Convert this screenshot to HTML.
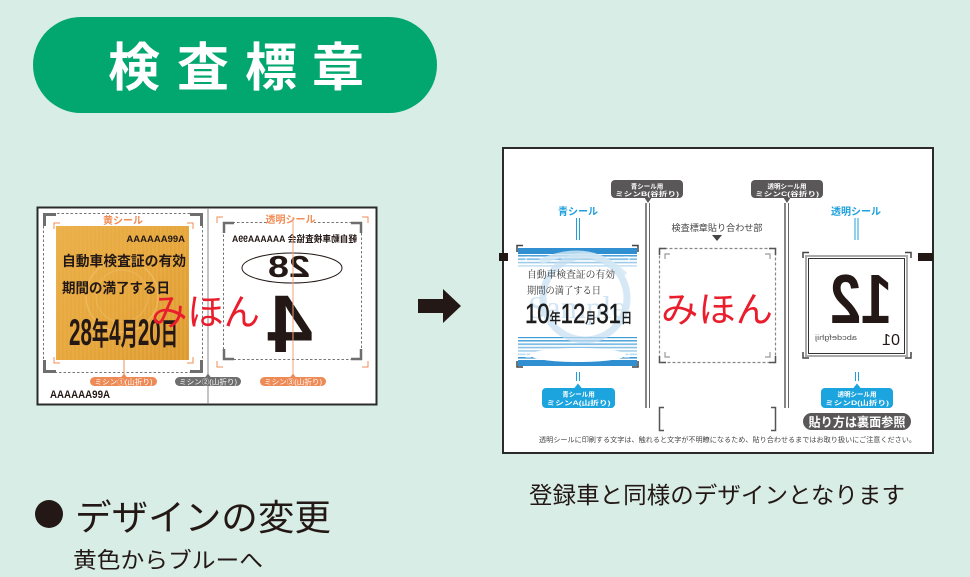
<!DOCTYPE html>
<html><head><meta charset="utf-8">
<style>
html,body{margin:0;padding:0;background:#d7ede6;}
svg{display:block;}
text{font-family:"Liberation Sans","Noto Sans CJK JP",sans-serif;}
.ser{font-family:"Liberation Serif","Noto Serif CJK SC",serif;}
</style></head>
<body>
<svg width="970" height="577" viewBox="0 0 970 577" xmlns="http://www.w3.org/2000/svg">
<defs>
  <linearGradient id="gold" x1="0" y1="0" x2="1" y2="1">
    <stop offset="0" stop-color="#eab04a"/>
    <stop offset="0.5" stop-color="#e6a73c"/>
    <stop offset="1" stop-color="#dc9a30"/>
  </linearGradient>
  <pattern id="wood" width="4" height="134" patternUnits="userSpaceOnUse">
    <rect width="2" height="134" fill="#f0b85a" opacity="0.25"/>
  </pattern>
  <pattern id="stripes" width="10" height="3.4" patternUnits="userSpaceOnUse">
    <rect width="10" height="1.6" fill="#3d9ad6"/>
  </pattern>
  <linearGradient id="fadeTop" x1="0" y1="0" x2="0" y2="1">
    <stop offset="0" stop-color="#fff" stop-opacity="0"/>
    <stop offset="1" stop-color="#fff" stop-opacity="0.75"/>
  </linearGradient>
  <linearGradient id="fadeBot" x1="0" y1="0" x2="0" y2="1">
    <stop offset="0" stop-color="#fff" stop-opacity="0.75"/>
    <stop offset="1" stop-color="#fff" stop-opacity="0"/>
  </linearGradient>
</defs>

<!-- background -->
<rect x="0" y="0" width="970" height="577" fill="#d7ede6"/>

<!-- title pill -->
<rect x="33" y="17" width="404" height="96" rx="48" fill="#02a66f"/>
<g font-size="52" font-weight="bold" fill="#fff" text-anchor="middle">
  <text x="134" y="86">検</text>
  <text x="203" y="86">査</text>
  <text x="271" y="86">標</text>
  <text x="338" y="86">章</text>
</g>

<!-- ============ LEFT PANEL ============ -->
<rect x="37.5" y="207.5" width="339" height="197" fill="#fff" stroke="#2b2b2b" stroke-width="2"/>
<line x1="208" y1="208" x2="208" y2="404" stroke="#8a8a8a" stroke-width="1"/>

<!-- yellow sticker frame -->
<rect x="43.5" y="213.5" width="159" height="159" fill="none" stroke="#777" stroke-width="1" stroke-dasharray="2.5,2"/>
<g fill="none" stroke="#6e6e6e" stroke-width="3">
  <path d="M44.5 226 V214.5 H56"/>
  <path d="M190 214.5 H201.5 V226"/>
  <path d="M44.5 360 V371.5 H56"/>
  <path d="M190 371.5 H201.5 V360"/>
</g>
<g fill="none" stroke="#f08c55" stroke-width="1">
  <path d="M54 229 V223 H60"/>
  <path d="M187 223 H193 V229"/>
  <path d="M54 357 V363 H60"/>
  <path d="M187 363 H193 V357"/>
</g>
<rect x="56" y="226" width="133" height="134" fill="url(#gold)"/>
<rect x="56" y="226" width="133" height="134" fill="url(#wood)"/>
<circle cx="122" cy="296" r="36" fill="none" stroke="#f2c270" stroke-width="1.5" opacity="0.6"/>
<circle cx="122" cy="296" r="26" fill="none" stroke="#f2c270" stroke-width="1" opacity="0.5"/>
<rect x="104" y="216" width="38" height="9" fill="#fff"/>
<text x="123" y="224" font-size="10" font-weight="bold" fill="#f08c55" text-anchor="middle">黄シール</text>
<text x="185" y="242" font-size="9.5" font-weight="bold" fill="#231815" text-anchor="end">AAAAAA99A</text>
<text x="62" y="266" font-size="14" font-weight="bold" fill="#231815" textLength="124" lengthAdjust="spacingAndGlyphs">自動車検査証の有効</text>
<text x="62" y="293" font-size="14" font-weight="bold" fill="#231815" textLength="108" lengthAdjust="spacingAndGlyphs">期間の満了する日</text>
<text x="69" y="345" font-weight="bold" fill="#231815" textLength="109" lengthAdjust="spacingAndGlyphs"><tspan font-size="37">28</tspan><tspan font-size="31">年</tspan><tspan font-size="37">4</tspan><tspan font-size="31">月</tspan><tspan font-size="37">20</tspan><tspan font-size="31">日</tspan></text>

<!-- transparent sticker (left) -->
<g fill="none" stroke="#f08c55" stroke-width="1">
  <path d="M217 223 V217 H223"/>
  <path d="M362 217 H368 V223"/>
  <path d="M217 361 V367 H223"/>
  <path d="M362 367 H368 V361"/>
</g>
<rect x="223.5" y="222.5" width="138" height="137" fill="none" stroke="#777" stroke-width="1" stroke-dasharray="2.5,2"/>
<g fill="none" stroke="#6e6e6e" stroke-width="2.5">
  <path d="M224 233 V223 H234"/>
  <path d="M351 223 H361 V233"/>
  <path d="M224 349 V359 H234"/>
  <path d="M351 359 H361 V349"/>
</g>
<rect x="268" y="215" width="46" height="9" fill="#fff"/>
<text x="290.5" y="223" font-size="10" font-weight="bold" fill="#f08c55" text-anchor="middle">透明シール</text>
<text x="294.5" y="242" font-size="9" font-weight="bold" fill="#231815" text-anchor="middle" textLength="125" lengthAdjust="spacingAndGlyphs" transform="translate(589,0) scale(-1,1)">軽自動車検査協会 AAAAAA99A</text>
<ellipse cx="292" cy="268" rx="50" ry="15" fill="none" stroke="#231815" stroke-width="1"/>
<text x="289" y="277" font-size="31" font-weight="bold" fill="#231815" text-anchor="middle" textLength="42" lengthAdjust="spacingAndGlyphs" transform="translate(578,0) scale(-1,1)">28</text>
<text x="290" y="352" font-size="82" font-weight="bold" fill="#231815" text-anchor="middle" transform="translate(580,0) scale(-1,1)">4</text>

<!-- guide lines -->
<line x1="124" y1="360" x2="124" y2="377" stroke="#f08c55" stroke-width="1"/>
<line x1="293" y1="217" x2="293" y2="377" stroke="#f0a07a" stroke-width="1"/>

<!-- mihon -->
<text x="151" y="325" font-size="37" fill="#ea1d2c" textLength="109" lengthAdjust="spacingAndGlyphs">みほん</text>

<!-- pills -->
<g>
  <path d="M121 377.5 L124 373.5 L127 377.5 Z" fill="#ee8a55"/>
  <rect x="90" y="377" width="67" height="9" rx="4.5" fill="#ee8a55"/>
  <text x="123.5" y="384.6" font-size="7.2" fill="#fff" text-anchor="middle" textLength="58" lengthAdjust="spacingAndGlyphs">ミシン①(山折り)</text>
  <path d="M205 377.5 L208 373.5 L211 377.5 Z" fill="#6f6f6f"/>
  <rect x="175" y="377" width="66" height="9" rx="4.5" fill="#6f6f6f"/>
  <text x="208" y="384.6" font-size="7.2" fill="#fff" text-anchor="middle" textLength="58" lengthAdjust="spacingAndGlyphs">ミシン②(山折り)</text>
  <path d="M290 377.5 L293 373.5 L296 377.5 Z" fill="#ee8a55"/>
  <rect x="260" y="377" width="66" height="9" rx="4.5" fill="#ee8a55"/>
  <text x="293" y="384.6" font-size="7.2" fill="#fff" text-anchor="middle" textLength="58" lengthAdjust="spacingAndGlyphs">ミシン③(山折り)</text>
</g>
<text x="50" y="398" font-size="11" font-weight="bold" fill="#231815" textLength="60" lengthAdjust="spacingAndGlyphs">AAAAAA99A</text>

<!-- arrow -->
<path d="M418 299 H443 V289 L461 306 L443 323 V313 H418 Z" fill="#231815"/>

<!-- ============ RIGHT PANEL ============ -->
<rect x="503" y="148" width="430" height="305" fill="#fff" stroke="#2b2b2b" stroke-width="2"/>
<rect x="499" y="253" width="9" height="8" fill="#231815"/>
<rect x="918" y="253" width="15" height="8" fill="#231815"/>

<!-- callout B -->
<rect x="611" y="180" width="72" height="18" rx="4" fill="#595757"/>
<path d="M644 197 L652 197 L648 203 Z" fill="#595757"/>
<text x="647" y="188.5" font-size="6.5" font-weight="bold" fill="#fff" text-anchor="middle">青シール用</text>
<text x="647" y="196" font-size="6.5" font-weight="bold" fill="#fff" text-anchor="middle" textLength="64" lengthAdjust="spacingAndGlyphs">ミシンB(谷折り)</text>
<line x1="646" y1="203" x2="646" y2="408" stroke="#444" stroke-width="1.3"/>
<line x1="649.5" y1="203" x2="649.5" y2="408" stroke="#666" stroke-width="1"/>

<!-- callout C -->
<rect x="751" y="180" width="72" height="18" rx="4" fill="#595757"/>
<path d="M783 197 L791 197 L787 203 Z" fill="#595757"/>
<text x="787" y="188.5" font-size="6.5" font-weight="bold" fill="#fff" text-anchor="middle">透明シール用</text>
<text x="787" y="196" font-size="6.5" font-weight="bold" fill="#fff" text-anchor="middle" textLength="64" lengthAdjust="spacingAndGlyphs">ミシンC(谷折り)</text>
<line x1="785" y1="203" x2="785" y2="408" stroke="#444" stroke-width="1.3"/>
<line x1="788.5" y1="203" x2="788.5" y2="408" stroke="#666" stroke-width="1"/>

<!-- labels -->
<text x="578" y="215" font-size="10" font-weight="bold" fill="#1ea0dc" text-anchor="middle">青シール</text>
<line x1="576.5" y1="218" x2="576.5" y2="240" stroke="#1ea0dc" stroke-width="1"/>
<line x1="579.5" y1="218" x2="579.5" y2="240" stroke="#1ea0dc" stroke-width="1"/>
<text x="856" y="215" font-size="10" font-weight="bold" fill="#1ea0dc" text-anchor="middle">透明シール</text>
<line x1="855" y1="218" x2="855" y2="240" stroke="#1ea0dc" stroke-width="1"/>
<line x1="858" y1="218" x2="858" y2="240" stroke="#1ea0dc" stroke-width="1"/>

<text x="717" y="231" font-size="9" fill="#444" text-anchor="middle" textLength="91" lengthAdjust="spacingAndGlyphs">検査標章貼り合わせ部</text>
<path d="M712 235 L722 235 L717 241 Z" fill="#444"/>

<!-- middle dashed area -->
<rect x="659.5" y="248.5" width="116" height="114" fill="none" stroke="#888" stroke-width="1.2" stroke-dasharray="3,2"/>
<g fill="none" stroke="#555" stroke-width="1.5">
  <path d="M659.5 255 V248.5 H666"/>
  <path d="M769 248.5 H775.5 V255"/>
  <path d="M659.5 356 V362.5 H666"/>
  <path d="M769 362.5 H775.5 V356"/>
</g>
<g fill="none" stroke="#999" stroke-width="1.2">
  <path d="M665 259 V254 H670"/>
  <path d="M765 254 H770 V259"/>
  <path d="M665 352 V357 H670"/>
  <path d="M765 357 H770 V352"/>
</g>
<text x="717" y="322" font-size="36" fill="#ea1d2c" text-anchor="middle" textLength="112" lengthAdjust="spacingAndGlyphs">みほん</text>

<!-- middle bottom brackets -->
<g fill="none" stroke="#555" stroke-width="1.5">
  <path d="M664 407.5 H659.5 V430.5 H664"/>
  <path d="M771 407.5 H775.5 V430.5 H771"/>
</g>

<!-- blue sticker -->
<g>
  <rect x="518" y="248" width="119" height="118" fill="#fff"/>
  <rect x="518" y="248" width="119" height="6" fill="#2f8fd0"/>
  <rect x="518" y="254" width="119" height="13" fill="url(#stripes)"/>
  <rect x="518" y="254" width="119" height="13" fill="url(#fadeTop)"/>
  <rect x="518" y="337" width="119" height="24" fill="url(#stripes)"/>
  <rect x="518" y="337" width="119" height="20" fill="url(#fadeBot)" transform="rotate(180 577.5 347)"/>
  <rect x="518" y="360" width="119" height="6" fill="#2f8fd0"/>
  <ellipse cx="578" cy="355" rx="48" ry="7" fill="#fff"/>
  <circle cx="585" cy="298" r="42" fill="none" stroke="#c5def2" stroke-width="7" opacity="0.7"/>
  <path d="M540 262 Q590 240 625 275" fill="none" stroke="#d5e8f5" stroke-width="6" opacity="0.8"/>
  <text x="528" y="318" font-size="32" class="ser" fill="#d2e5f3" textLength="98" lengthAdjust="spacingAndGlyphs">Sample</text>
  <g fill="none" stroke="#fff" stroke-width="1">
    <path d="M526 262 V257 H531"/>
    <path d="M624 257 H629 V262"/>
    <path d="M526 352 V357 H531"/>
    <path d="M624 357 H629 V352"/>
  </g>
  <text x="527" y="278" font-size="10" class="ser" fill="#333" textLength="88" lengthAdjust="spacingAndGlyphs">自動車検査証の有効</text>
  <text x="527" y="294" font-size="10" class="ser" fill="#333" textLength="74" lengthAdjust="spacingAndGlyphs">期間の満了する日</text>
  <text x="525" y="323" fill="#1d1d1d" stroke="#1d1d1d" stroke-width="0.5" textLength="107" lengthAdjust="spacingAndGlyphs"><tspan font-size="28">10</tspan><tspan font-size="14">年</tspan><tspan font-size="28">12</tspan><tspan font-size="14">月</tspan><tspan font-size="28">31</tspan><tspan font-size="14">日</tspan></text>
</g>
<g fill="none" stroke="#444" stroke-width="1.5">
  <path d="M517 252 V245.5 H523"/>
  <path d="M632 245.5 H638 V252"/>
  <path d="M517 361 V367 H523"/>
  <path d="M632 367 H638 V361"/>
</g>

<!-- transparent sticker (right) -->
<rect x="806" y="256" width="101" height="100" fill="#fff" stroke="#aaa" stroke-width="2"/>
<rect x="808.5" y="258.5" width="96" height="95" fill="none" stroke="#333" stroke-width="1"/>
<g fill="none" stroke="#444" stroke-width="1.5">
  <path d="M803 258 V252.5 H809"/>
  <path d="M905 252.5 H911 V258"/>
  <path d="M803 352 V358 H809"/>
  <path d="M905 358 H911 V352"/>
</g>
<text x="861" y="323" font-size="70" font-weight="bold" fill="#231815" text-anchor="middle" textLength="62" lengthAdjust="spacingAndGlyphs" transform="translate(1722,0) scale(-1,1)">12</text>
<text x="891" y="345" font-size="16" fill="#231815" text-anchor="middle" textLength="18" lengthAdjust="spacingAndGlyphs" transform="translate(1782,0) scale(-1,1)">01</text>
<text x="836" y="340" font-size="7" fill="#555" text-anchor="middle" textLength="42" lengthAdjust="spacingAndGlyphs" transform="translate(1672,0) scale(-1,1)">abcdefghij</text>

<!-- blue callouts -->
<line x1="576.5" y1="372" x2="576.5" y2="381" stroke="#1ea0dc" stroke-width="1"/>
<line x1="579.5" y1="372" x2="579.5" y2="381" stroke="#1ea0dc" stroke-width="1"/>
<path d="M574 388.5 L582 388.5 L578 383.5 Z" fill="#1ba4de"/>
<rect x="542" y="388" width="73" height="20" rx="4" fill="#1ba4de"/>
<text x="578.5" y="396.5" font-size="6.5" font-weight="bold" fill="#fff" text-anchor="middle">青シール用</text>
<text x="578.5" y="405" font-size="6.5" font-weight="bold" fill="#fff" text-anchor="middle" textLength="64" lengthAdjust="spacingAndGlyphs">ミシンA(山折り)</text>

<line x1="855.5" y1="372" x2="855.5" y2="381" stroke="#1ea0dc" stroke-width="1"/>
<line x1="858.5" y1="372" x2="858.5" y2="381" stroke="#1ea0dc" stroke-width="1"/>
<path d="M853 388.5 L861 388.5 L857 383.5 Z" fill="#1ba4de"/>
<rect x="821" y="388" width="72" height="20" rx="4" fill="#1ba4de"/>
<text x="857" y="396.5" font-size="6.5" font-weight="bold" fill="#fff" text-anchor="middle">透明シール用</text>
<text x="857" y="405" font-size="6.5" font-weight="bold" fill="#fff" text-anchor="middle" textLength="64" lengthAdjust="spacingAndGlyphs">ミシンD(山折り)</text>

<rect x="803" y="413" width="108" height="17" rx="8.5" fill="#595757"/>
<text x="857" y="426.5" font-size="12.5" font-weight="bold" fill="#fff" text-anchor="middle" textLength="97" lengthAdjust="spacingAndGlyphs">貼り方は裏面参照</text>

<text x="539" y="442" font-size="7" fill="#444" textLength="377" lengthAdjust="spacingAndGlyphs">透明シールに印刷する文字は、触れると文字が不明瞭になるため、貼り合わせるまではお取り扱いにご注意ください。</text>

<!-- bottom texts -->
<text x="529" y="503" font-size="23" fill="#231815" textLength="376" lengthAdjust="spacingAndGlyphs">登録車と同様のデザインとなります</text>
<circle cx="49" cy="514" r="14" fill="#231815"/>
<text x="75" y="530" font-size="36" fill="#231815" textLength="256" lengthAdjust="spacingAndGlyphs">デザインの変更</text>
<text x="73" y="568" font-size="22" fill="#231815" textLength="190" lengthAdjust="spacingAndGlyphs">黄色からブルーへ</text>
</svg>
</body></html>
